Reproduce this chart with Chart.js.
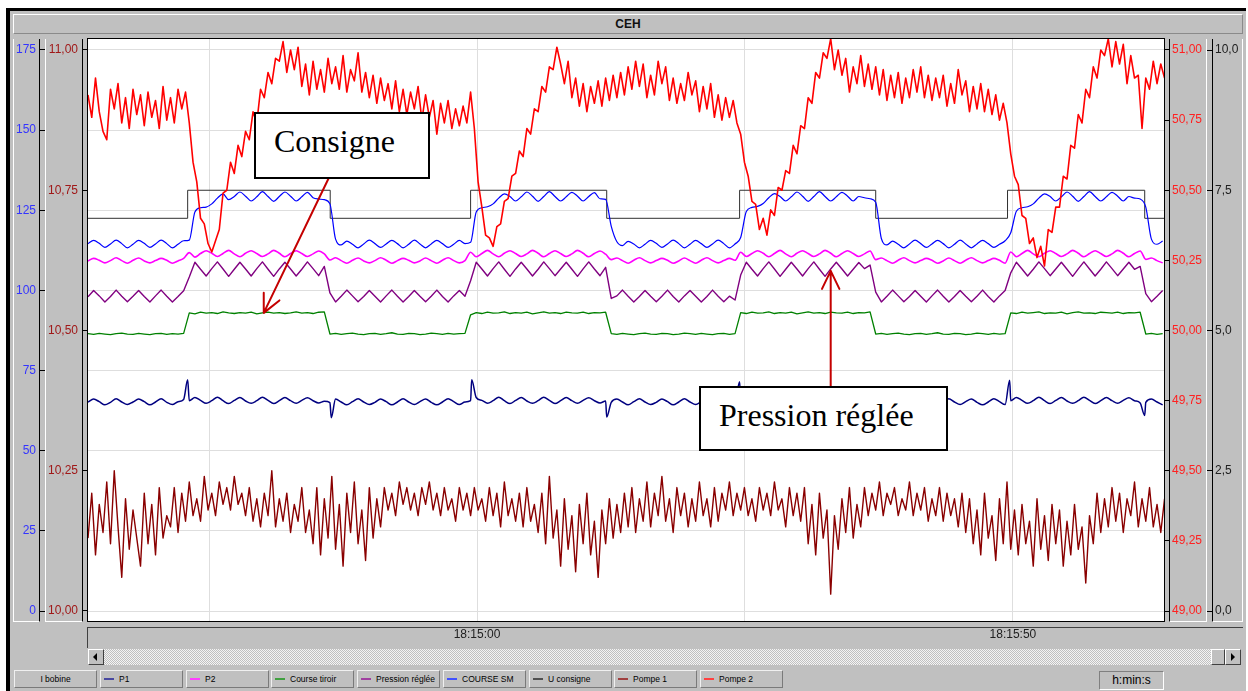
<!DOCTYPE html>
<html lang="fr">
<head>
<meta charset="utf-8">
<title>CEH</title>
<script src="https://cdn.jsdelivr.net/npm/chart.js"></script>
<style>
    body { margin: 0; width: 1248px; height: 691px; overflow: hidden; background: #fff; position: relative;
           font-family: "Liberation Sans", Arial, sans-serif; }
    .abs { position: absolute; box-sizing: border-box; }
    #frame { left: 6px; top: 8px; width: 1240px; height: 683px; background: #c0c0c0;
             border-left: 4px solid #000; border-top: 3px solid #000; }
    #titlebar { left: 13px; top: 14px; width: 1230px; height: 20px; background: #c0c0c0;
                border-top: 1px solid #fff; border-left: 1px solid #fff; border-bottom: 1px solid #8a8a8a; border-right: 1px solid #8a8a8a;
                font: bold 12px "Liberation Sans", Arial, sans-serif; text-align: center; line-height: 18px; color: #111; }
    .lpanel { top: 39px; height: 583px; border-left: 1px solid #fff; border-bottom: 1px solid #fff; border-right: 1px solid #000; }
    .rpanel { top: 39px; height: 583px; border-left: 1px solid #000; border-bottom: 1px solid #fff; border-right: 1px solid #fff; }
    #plot { left: 87px; top: 38px; width: 1078px; height: 584px; background: #fff; border: 1px solid #000; }
    #xpanel { left: 87px; top: 627px; width: 1156px; height: 21px; border-top: 1px solid #404040; border-left: 1px solid #404040; }
    #track { left: 88px; top: 649px; width: 1152px; height: 16px;
             background: repeating-conic-gradient(#c0c0c0 0 25%, #f4f4f4 0 50%) 0 0 / 2px 2px; }
    .btn { background: #c0c0c0; border-top: 1px solid #fff; border-left: 1px solid #fff;
           border-bottom: 1px solid #404040; border-right: 1px solid #404040; }
    .tri { position: absolute; width: 0; height: 0; border-top: 4px solid transparent; border-bottom: 4px solid transparent; }
    .leg { top: 670px; width: 83px; height: 18px; font-size: 8.5px; line-height: 16px; color: #000; white-space: nowrap; overflow: hidden;
           background: #c0c0c0; border-top: 1px solid #f0f0f0; border-left: 1px solid #f0f0f0;
           border-bottom: 1px solid #7a7a7a; border-right: 1px solid #7a7a7a; }
    .leg .sw { position: absolute; left: 3px; top: 7px; width: 10px; height: 2px; }
    .leg .tx { position: absolute; left: 18px; top: 0; }
    #hmin { left: 1099px; top: 671px; width: 65px; height: 19px; font-size: 12px; line-height: 17px; text-align: center;
            border-top: 1px solid #808080; border-left: 1px solid #808080; border-bottom: 1px solid #fff; border-right: 1px solid #fff; }
    #chart { position: absolute; left: 0; top: 0; z-index: 5; }
    .note { position: absolute; z-index: 10; box-sizing: border-box; background: #fff; border: 2px solid #000; }
    .note span { position: absolute; left: 18px; top: 11px; font: 32px/32px "Liberation Serif", "Times New Roman", serif;
                 color: #000; white-space: nowrap; }
</style>
</head>
<body>
<div id="frame" class="abs"></div>
<div id="titlebar" class="abs">CEH</div>
<div class="abs lpanel" style="left:13px;width:27px"></div>
<div class="abs lpanel" style="left:45px;width:38px"></div>
<div class="abs rpanel" style="left:1169px;width:38px"></div>
<div class="abs rpanel" style="left:1212px;width:31px"></div>
<div id="plot" class="abs"></div>
<div id="xpanel" class="abs"></div>
<div id="track" class="abs"></div>
<div class="abs btn" style="left:88px;top:649px;width:16px;height:16px"><div class="tri" style="left:4px;top:3px;border-right:4px solid #000"></div></div>
<div class="abs btn" style="left:1211px;top:649px;width:14px;height:16px"></div>
<div class="abs btn" style="left:1225px;top:649px;width:16px;height:16px"><div class="tri" style="left:5px;top:3px;border-left:4px solid #000"></div></div>
<div id="legend"></div>
<div id="hmin" class="abs">h:min:s</div>
<canvas id="chart" width="1248" height="691"></canvas>
<div class="note" style="left:254px;top:112px;width:176px;height:67px"><span>Consigne</span></div>
<div class="note" style="left:699px;top:386px;width:249px;height:65px"><span>Pression réglée</span></div>

<script>
/* ── Time base: seconds relative to 18:15:00 ── */
const T0 = -36.3;          // first sample on screen
const DT_A = 0.525;        // sample step of the smooth channels
const DT_B = 0.35;         // sample step of the pump channels
const X_MIN = -36.3, X_MAX = 64.1;

const xTickSecs = [-25, 0, 25, 50];
const xTickLabels = ['', '18:15:00', '', '18:15:50'];

/* ── Axis tick lists ── */
const blueTicks = [0, 25, 50, 75, 100, 125, 150, 175];
const darkTicks = [10.0, 10.25, 10.5, 10.75, 11.0];
const redTicks = [49.0, 49.25, 49.5, 49.75, 50.0, 50.25, 50.5, 50.75, 51.0];
const blackTicks = [0, 2.5, 5, 7.5, 10];

/* ── COURSE SM (blue axis), step DT_A ── */
const courseSM = [
    114.6, 115.6, 114.7, 113.4, 114.5, 115.7, 114.6, 113.3, 114.4, 115.6, 114.7, 113.4, 114.5, 115.7, 114.6, 113.3, 114.4, 115.5,
    115.7, 124.5, 125.8, 126.0, 127.0, 128.8, 130.1, 128.3, 129.3, 130.7, 129.4, 127.9, 129.2, 130.8, 129.3, 127.8, 129.3, 130.7, 129.4, 127.9, 129.2, 130.6, 128.9, 128.5, 128.3,
    127.0, 116.0, 114.2, 115.4, 114.4, 113.3, 114.5, 115.7, 114.6, 113.4, 114.5, 115.6, 114.6, 113.3, 114.4, 115.7, 114.5, 113.3, 114.5, 115.6, 114.6, 113.4, 114.4, 115.6, 114.6,
    115.0, 124.5, 125.8, 126.1, 127.0, 128.8, 130.1, 129.3, 127.9, 129.2, 130.7, 129.4, 127.8, 129.3, 130.8, 129.3, 127.9, 129.2, 130.6, 129.4, 127.9, 129.3, 130.5, 128.6, 128.4,
    120.0, 115.2, 114.0, 115.3, 114.5, 113.3, 114.4, 115.6, 114.7, 113.4, 114.5, 115.7, 114.6, 113.3, 114.4, 115.6, 114.6, 113.4, 114.5, 115.7, 114.6, 113.3, 114.5,
    116.5, 124.6, 125.9, 126.2, 127.1, 128.9, 130.2, 129.3, 127.9, 129.2, 130.7, 129.4, 127.8, 129.3, 130.8, 129.3, 127.9, 129.2, 130.6, 129.4, 127.9, 129.3, 128.9, 128.6,
    127.5, 116.2, 114.2, 115.4, 114.4, 113.3, 114.5, 115.7, 114.6, 113.4, 114.5, 115.6, 114.6, 113.3, 114.4, 115.7, 114.5, 113.3, 114.5, 115.6, 114.6, 113.4, 114.4, 115.5,
    118.0, 124.7, 125.8, 126.1, 127.0, 128.8, 130.1, 129.3, 127.9, 129.2, 130.7, 129.4, 127.8, 129.3, 130.8, 129.3, 127.9, 129.2, 130.6, 129.4, 127.9, 129.3, 128.8, 128.5,
    126.0, 116.0, 114.4, 115.4
];

/* ── P2 (blue axis), step DT_A ── */
const p2 = [
    109.2, 110.0, 109.4, 108.6, 109.3, 110.2, 109.3, 108.5, 109.4, 110.1, 109.2, 108.6, 109.3, 110.0, 109.4, 108.5, 109.2, 110.0,
    111.8, 110.4, 111.5, 112.4, 111.6, 110.6, 111.5, 112.5, 111.4, 110.5, 111.6, 112.4, 111.5, 110.6, 111.4, 112.5, 111.6, 110.5, 111.5, 112.4, 111.5, 110.6, 111.4, 112.3, 111.4,
    109.5, 110.2, 109.3, 108.5, 109.4, 110.1, 109.2, 108.6, 109.3, 110.2, 109.4, 108.5, 109.3, 110.0, 109.4, 108.6, 109.2, 110.1, 109.3, 108.5, 109.4, 110.2, 109.3, 108.6, 109.3,
    111.9, 110.5, 111.5, 112.5, 111.4, 110.5, 111.6, 112.4, 111.5, 110.6, 111.4, 112.5, 111.6, 110.5, 111.5, 112.4, 111.5, 110.6, 111.4, 112.5, 111.6, 110.5, 111.5, 112.3, 111.3,
    109.6, 110.1, 109.3, 108.5, 109.4, 110.2, 109.3, 108.6, 109.3, 110.0, 109.4, 108.5, 109.2, 110.1, 109.3, 108.5, 109.4, 110.2, 109.3, 108.6, 109.3, 110.0, 109.4,
    111.9, 110.6, 111.5, 112.4, 111.6, 110.5, 111.5, 112.5, 111.4, 110.5, 111.6, 112.4, 111.5, 110.6, 111.4, 112.5, 111.6, 110.5, 111.5, 112.4, 111.5, 110.6, 111.4, 112.3,
    109.6, 110.1, 109.3, 108.5, 109.4, 110.2, 109.3, 108.6, 109.3, 110.0, 109.4, 108.5, 109.2, 110.1, 109.3, 108.5, 109.4, 110.2, 109.3, 108.6, 109.3, 110.0, 109.4, 108.5,
    112.0, 110.5, 111.5, 112.5, 111.4, 110.5, 111.6, 112.4, 111.5, 110.6, 111.4, 112.5, 111.6, 110.5, 111.5, 112.4, 111.5, 110.6, 111.4, 112.5, 111.6, 110.5, 111.5, 112.3,
    109.7, 110.1, 109.3, 108.6
];

/* ── Pression réglée (blue axis), step DT_A ── */
const pression = [
    98.0, 100.0, 98.3, 96.4, 98.1, 100.1, 98.2, 96.5, 98.2, 100.0, 98.1, 96.4, 98.3, 100.1, 98.2, 96.4, 98.1, 99.9,
    104.2, 108.8, 106.6, 104.5, 106.8, 108.9, 106.7, 104.4, 106.6, 108.8, 106.7, 104.5, 106.8, 108.9, 106.6, 104.4, 106.7, 108.8, 106.7, 104.5, 106.6, 108.9, 106.8, 104.6, 107.5,
    99.2, 96.4, 98.2, 100.1, 98.3, 96.5, 98.1, 100.0, 98.2, 96.4, 98.3, 100.1, 98.2, 96.4, 98.1, 100.0, 98.2, 96.5, 98.2, 100.1, 98.1, 96.4, 98.3, 100.0, 98.2,
    103.0, 108.8, 106.7, 104.5, 106.8, 108.9, 106.6, 104.4, 106.7, 108.8, 106.7, 104.5, 106.6, 108.9, 106.8, 104.6, 106.7, 108.8, 106.6, 104.4, 106.7, 108.9, 106.7, 104.6, 107.2,
    97.5, 98.3, 100.1, 98.2, 96.4, 98.1, 100.0, 98.2, 96.5, 98.2, 100.1, 98.1, 96.4, 98.3, 100.0, 98.2, 96.4, 98.1, 100.1, 98.2, 96.5, 98.2, 97.0,
    104.8, 108.8, 106.6, 104.5, 106.8, 108.9, 106.7, 104.4, 106.6, 108.8, 106.7, 104.5, 106.8, 108.9, 106.6, 104.4, 106.7, 108.8, 106.7, 104.5, 106.6, 108.7, 106.8, 107.9,
    99.5, 96.4, 98.2, 100.1, 98.3, 96.5, 98.1, 100.0, 98.2, 96.4, 98.3, 100.1, 98.2, 96.4, 98.1, 100.0, 98.2, 96.5, 98.2, 100.1, 98.1, 96.4, 98.3, 100.0,
    105.5, 108.8, 106.7, 104.5, 106.6, 108.9, 106.8, 104.6, 106.7, 108.8, 106.6, 104.4, 106.7, 108.9, 106.7, 104.5, 106.6, 108.9, 106.8, 104.6, 106.7, 108.8, 106.6, 107.5,
    99.0, 96.5, 98.2, 100.0
];

/* ── Course tiroir (blue axis), step DT_A ── */
const courseTiroir = [
    86.5, 86.3, 86.6, 86.4, 86.2, 86.5, 86.7, 86.4, 86.3, 86.6, 86.4, 86.2, 86.5, 86.6, 86.3, 86.5, 86.4, 86.6,
    93.0, 92.7, 93.2, 92.9, 93.1, 92.8, 93.3, 93.0, 92.8, 93.1, 92.9, 93.2, 92.7, 93.0, 93.2, 92.9, 93.1, 92.8, 93.0, 93.3, 92.9, 93.1, 92.8, 93.2, 93.3,
    86.4, 86.6, 86.3, 86.5, 86.7, 86.4, 86.2, 86.5, 86.6, 86.3, 86.5, 86.8, 86.4, 86.3, 86.6, 86.5, 86.2, 86.4, 86.7, 86.5, 86.3, 86.6, 86.4, 86.5, 86.6,
    92.4, 93.1, 92.8, 93.2, 92.9, 93.0, 93.3, 92.8, 93.1, 92.9, 93.2, 92.7, 93.0, 93.3, 92.9, 93.1, 92.8, 93.2, 93.0, 92.9, 93.2, 92.8, 93.1, 93.0, 93.2,
    86.5, 86.3, 86.6, 86.4, 86.2, 86.5, 86.7, 86.4, 86.3, 86.6, 86.5, 86.2, 86.4, 86.7, 86.5, 86.3, 86.6, 86.4, 86.2, 86.5, 86.6, 86.3, 86.5,
    93.1, 92.8, 93.2, 92.9, 93.0, 93.3, 92.8, 93.1, 92.9, 93.2, 92.7, 93.0, 93.3, 92.9, 93.1, 92.8, 93.2, 93.0, 92.9, 93.2, 92.8, 93.1, 93.0, 93.3,
    86.4, 86.6, 86.3, 86.5, 86.7, 86.4, 86.2, 86.5, 86.6, 86.3, 86.5, 86.8, 86.4, 86.3, 86.6, 86.5, 86.2, 86.4, 86.7, 86.5, 86.3, 86.6, 86.4, 86.5,
    93.0, 92.8, 93.2, 92.9, 93.1, 93.3, 92.8, 93.0, 92.9, 93.2, 92.7, 93.1, 93.3, 92.9, 93.0, 92.8, 93.2, 93.1, 92.9, 93.2, 92.8, 93.1, 93.0, 93.2,
    86.4, 86.6, 86.3, 86.5
];

/* ── P1 (blue axis), step DT_A, plus the short spikes at each switch ── */
const p1 = [
    65.2, 66.1, 65.3, 64.3, 65.1, 66.2, 65.2, 64.4, 65.2, 66.1, 65.3, 64.3, 65.2, 66.2, 65.1, 64.4, 65.3, 66.0,
    65.6, 66.6, 65.7, 64.8, 65.6, 66.7, 65.6, 64.7, 65.7, 66.6, 65.5, 64.8, 65.6, 66.7, 65.7, 64.7, 65.6, 66.6, 65.6, 64.8, 65.7, 66.5, 65.6, 64.9, 65.4,
    65.0, 66.1, 65.2, 64.3, 65.3, 66.2, 65.2, 64.4, 65.1, 66.1, 65.3, 64.3, 65.2, 66.2, 65.2, 64.4, 65.3, 66.1, 65.1, 64.3, 65.2, 66.2, 65.3, 64.4, 65.2,
    65.6, 66.6, 65.7, 64.8, 65.6, 66.7, 65.6, 64.7, 65.7, 66.6, 65.5, 64.8, 65.6, 66.7, 65.7, 64.7, 65.6, 66.6, 65.6, 64.8, 65.7, 66.5, 65.6, 64.9, 65.5,
    65.1, 66.1, 65.2, 64.3, 65.3, 66.2, 65.2, 64.4, 65.1, 66.1, 65.3, 64.3, 65.2, 66.2, 65.2, 64.4, 65.3, 66.1, 65.1, 64.3, 65.2, 66.2, 65.3,
    65.6, 66.6, 65.7, 64.8, 65.6, 66.7, 65.6, 64.7, 65.7, 66.6, 65.5, 64.8, 65.6, 66.7, 65.7, 64.7, 65.6, 66.6, 65.6, 64.8, 65.7, 66.5, 65.6, 64.9,
    65.1, 66.1, 65.2, 64.3, 65.3, 66.2, 65.2, 64.4, 65.1, 66.1, 65.3, 64.3, 65.2, 66.2, 65.2, 64.4, 65.3, 66.1, 65.1, 64.3, 65.2, 66.2, 65.3, 64.4,
    65.6, 66.6, 65.7, 64.8, 65.6, 66.7, 65.6, 64.7, 65.7, 66.6, 65.5, 64.8, 65.6, 66.7, 65.7, 64.7, 65.6, 66.6, 65.6, 64.8, 65.7, 66.5, 65.6, 64.9,
    65.1, 66.1, 65.2, 64.3
];
const p1SpikeT = [-27.0, -13.6, -0.5, 12.1, 24.5, 37.2, 49.7, 62.3];
const p1SpikeV = [72.1, 60.3, 72.1, 60.5, 71.5, 60.5, 72.0, 61.0];

/* ── U consigne (black axis), switching instants ── */
const uT = [-36.3, -27.0, -13.7, -0.6, 12.1, 24.5, 37.2, 49.5, 62.3, 64.1];
const uV = [7.0, 7.5, 7.0, 7.5, 7.0, 7.5, 7.0, 7.5, 7.0, 7.0];

/* ── Pompe 2 (red axis), step DT_B ── */
const pompe2 = [
    50.84, 50.76, 50.90, 50.78, 50.71, 50.68, 50.86, 50.79, 50.88, 50.74,
    50.83, 50.72, 50.86, 50.77, 50.84, 50.73, 50.85, 50.76, 50.82, 50.72,
    50.87, 50.75, 50.83, 50.74, 50.86, 50.79, 50.85, 50.74, 50.60, 50.53,
    50.40, 50.38, 50.31, 50.28, 50.32, 50.36, 50.49, 50.50, 50.60, 50.56,
    50.66, 50.62, 50.71, 50.68, 50.78, 50.74, 50.86, 50.83, 50.92, 50.88,
    50.97, 50.96, 51.03, 50.92, 51.00, 50.93, 51.01, 50.87, 50.95, 50.84,
    50.96, 50.86, 50.93, 50.85, 50.97, 50.88, 50.94, 50.86, 50.98, 50.85,
    50.93, 50.89, 50.99, 50.85, 50.92, 50.83, 50.91, 50.81, 50.90, 50.82,
    50.88, 50.79, 50.89, 50.78, 50.86, 50.77, 50.85, 50.79, 50.87, 50.75,
    50.84, 50.76, 50.82, 50.70, 50.81, 50.74, 50.82, 50.72, 50.79, 50.73,
    50.80, 50.74, 50.85, 50.72, 50.53, 50.44, 50.34, 50.33, 50.30, 50.37,
    50.38, 50.46, 50.47, 50.55, 50.56, 50.64, 50.62, 50.72, 50.70, 50.79,
    50.78, 50.87, 50.85, 50.94, 50.93, 51.01, 50.95, 50.88, 50.96, 50.83,
    50.90, 50.80, 50.88, 50.78, 50.87, 50.81, 50.89, 50.80, 50.90, 50.82,
    50.91, 50.83, 50.92, 50.84, 50.94, 50.86, 50.96, 50.87, 50.95, 50.83,
    50.91, 50.84, 50.96, 50.88, 50.94, 50.82, 50.90, 50.81, 50.88, 50.82,
    50.92, 50.84, 50.89, 50.78, 50.87, 50.79, 50.88, 50.76, 50.84, 50.75,
    50.83, 50.76, 50.82, 50.74, 50.70, 50.60, 50.55, 50.46, 50.45, 50.36,
    50.40, 50.34, 50.43, 50.41, 50.51, 50.50, 50.57, 50.56, 50.66, 50.63,
    50.73, 50.72, 50.83, 50.81, 50.92, 50.90, 50.99, 50.97, 51.04, 50.93,
    51.00, 50.91, 50.97, 50.85, 50.94, 50.88, 50.98, 50.87, 50.95, 50.86,
    50.94, 50.84, 50.93, 50.82, 50.91, 50.83, 50.92, 50.81, 50.90, 50.83,
    50.93, 50.85, 50.94, 50.83, 50.91, 50.82, 50.90, 50.83, 50.91, 50.80,
    50.88, 50.81, 50.93, 50.84, 50.89, 50.78, 50.87, 50.79, 50.88, 50.78,
    50.86, 50.77, 50.84, 50.75, 50.81, 50.74, 50.63, 50.55, 50.52, 50.41,
    50.40, 50.31, 50.33, 50.26, 50.30, 50.23, 50.36, 50.35, 50.44, 50.44,
    50.55, 50.54, 50.66, 50.65, 50.77, 50.74, 50.86, 50.83, 50.94, 50.90,
    51.00, 50.98, 51.04, 50.94, 51.03, 50.95, 51.02, 50.88, 50.98, 50.90,
    50.91, 50.72, 50.90, 50.86, 50.96, 50.88, 50.95, 50.90
];

/* ── Pompe 1 (dark red axis), step DT_B ── */
const pompe1 = [
    10.13, 10.21, 10.10, 10.19, 10.14, 10.23, 10.12, 10.25, 10.15, 10.06,
    10.20, 10.11, 10.18, 10.13, 10.08, 10.21, 10.12, 10.19, 10.10, 10.22,
    10.13, 10.17, 10.15, 10.22, 10.14, 10.21, 10.16, 10.23, 10.17, 10.20,
    10.16, 10.24, 10.18, 10.21, 10.17, 10.23, 10.19, 10.22, 10.18, 10.24,
    10.19, 10.21, 10.17, 10.22, 10.16, 10.20, 10.15, 10.21, 10.17, 10.25,
    10.15, 10.20, 10.16, 10.21, 10.14, 10.19, 10.16, 10.22, 10.14, 10.18,
    10.12, 10.22, 10.10, 10.20, 10.13, 10.24, 10.11, 10.19, 10.08, 10.21,
    10.14, 10.23, 10.12, 10.18, 10.09, 10.22, 10.13, 10.20, 10.15, 10.22,
    10.18, 10.21, 10.17, 10.23, 10.19, 10.22, 10.18, 10.21, 10.17, 10.22,
    10.19, 10.23, 10.18, 10.21, 10.17, 10.22, 10.18, 10.20, 10.16, 10.22,
    10.18, 10.21, 10.17, 10.22, 10.18, 10.20, 10.16, 10.22, 10.17, 10.21,
    10.15, 10.23, 10.17, 10.20, 10.16, 10.21, 10.15, 10.22, 10.16, 10.19,
    10.14, 10.21, 10.12, 10.24, 10.13, 10.18, 10.08, 10.20, 10.11, 10.17,
    10.07, 10.19, 10.12, 10.21, 10.10, 10.16, 10.06, 10.18, 10.12, 10.20,
    10.13, 10.19, 10.14, 10.21, 10.15, 10.22, 10.14, 10.20, 10.16, 10.23,
    10.15, 10.21, 10.17, 10.24, 10.16, 10.20, 10.14, 10.22, 10.17, 10.21,
    10.15, 10.20, 10.16, 10.23, 10.17, 10.20, 10.15, 10.22, 10.16, 10.21,
    10.18, 10.23, 10.17, 10.21, 10.18, 10.22, 10.17, 10.20, 10.16, 10.22,
    10.18, 10.21, 10.17, 10.23, 10.18, 10.20, 10.15, 10.22, 10.17, 10.21,
    10.16, 10.22, 10.12, 10.19, 10.10, 10.21, 10.13, 10.18, 10.03, 10.17,
    10.11, 10.20, 10.14, 10.22, 10.13, 10.19, 10.15, 10.22, 10.17, 10.21,
    10.18, 10.23, 10.17, 10.21, 10.19, 10.22, 10.17, 10.20, 10.18, 10.23,
    10.17, 10.21, 10.18, 10.22, 10.16, 10.20, 10.17, 10.22, 10.16, 10.21,
    10.17, 10.20, 10.15, 10.21, 10.14, 10.20, 10.12, 10.18, 10.10, 10.21,
    10.13, 10.17, 10.09, 10.20, 10.12, 10.23, 10.11, 10.18, 10.10, 10.19,
    10.12, 10.16, 10.08, 10.20, 10.11, 10.17, 10.09, 10.19, 10.12, 10.18,
    10.08, 10.16, 10.10, 10.19, 10.11, 10.15, 10.05, 10.17, 10.12, 10.21,
    10.14, 10.20, 10.15, 10.22, 10.16, 10.21, 10.14, 10.20, 10.17, 10.23,
    10.15, 10.20, 10.16, 10.22, 10.15, 10.19, 10.14, 10.20
];

/* ── Legend strip ── */
const legendNames = ['I bobine', 'P1', 'P2', 'Course tiroir', 'Pression réglée', 'COURSE SM', 'U consigne', 'Pompe 1', 'Pompe 2'];
const legendColors = [null, '#4848a0', '#ff40ff', '#40a040', '#a040a0', '#4050ff', '#505050', '#a04040', '#ff4040'];

/* ── Annotation arrows (time s, COURSE SM axis value) ── */
const arrows = [
    { from: [-13.7, 136.0], to: [-19.9, 93.0] },
    { from: [33.0, 70.2], to: [33.0, 106.1] },
];

const FONT = '"Liberation Sans", Arial, sans-serif';

function series(vals, dt) {
    return vals.map((v, i) => ({ x: T0 + i * dt, y: v }));
}

function comma(digits) {
    return v => Number(v).toFixed(digits).replace('.', ',');
}

function buildLegend() {
    const box = document.getElementById('legend');
    legendNames.forEach((name, i) => {
        const el = document.createElement('div');
        el.className = 'abs leg';
        el.style.left = Math.round(14 + i * 85.75) + 'px';
        if (legendColors[i]) {
            el.innerHTML = `<div class="sw" style="background:${legendColors[i]}"></div><div class="tx">${name}</div>`;
        } else {
            el.style.textAlign = 'center';
            el.textContent = name;
        }
        box.appendChild(el);
    });
}

const arrowPlugin = {
    id: 'arrows',
    afterDraw(chart) {
        const { ctx, scales } = chart;
        const xs = scales.x, ys = scales.yBlue;
        ctx.save();
        ctx.strokeStyle = '#c40000';
        ctx.lineWidth = 2;
        ctx.lineCap = 'round';
        for (const a of arrows) {
            const x0 = xs.getPixelForValue(a.from[0]), y0 = ys.getPixelForValue(a.from[1]);
            const x1 = xs.getPixelForValue(a.to[0]), y1 = ys.getPixelForValue(a.to[1]);
            const ang = Math.atan2(y1 - y0, x1 - x0);
            ctx.beginPath();
            ctx.moveTo(x0, y0);
            ctx.lineTo(x1, y1);
            for (const s of [-1, 1]) {
                ctx.moveTo(x1, y1);
                ctx.lineTo(x1 - 20 * Math.cos(ang + s * 0.45), y1 - 20 * Math.sin(ang + s * 0.45));
            }
            ctx.stroke();
        }
        ctx.restore();
    }
};

function yAxis(pos, weight, min, max, ticks, fmt, color, width, pad, grid) {
    return {
        type: 'linear', position: pos, weight, min, max,
        afterBuildTicks: s => { s.ticks = ticks.map(v => ({ value: v })); },
        afterFit: s => { s.width = width; },
        ticks: { callback: fmt, color, padding: pad, font: { family: FONT, size: 12 } },
        grid: { drawOnChartArea: grid, color: '#dedede', tickColor: '#000', tickLength: 5 },
        border: { display: false },
    };
}

function render() {
    buildLegend();

    const p1Data = series(p1, DT_A)
        .concat(p1SpikeT.map((t, i) => ({ x: t, y: p1SpikeV[i] })))
        .sort((a, b) => a.x - b.x);

    new Chart(document.getElementById('chart').getContext('2d'), {
        type: 'line',
        data: {
            datasets: [
                { label: 'Pompe 2', data: series(pompe2, DT_B), yAxisID: 'yRed', borderColor: '#ff0000', borderWidth: 1.6 },
                { label: 'Pompe 1', data: series(pompe1, DT_B), yAxisID: 'yDark', borderColor: '#8a0000', borderWidth: 1.4 },
                { label: 'P1', data: p1Data, yAxisID: 'yBlue', borderColor: '#000080', borderWidth: 1.5, cubicInterpolationMode: 'monotone' },
                { label: 'Course tiroir', data: series(courseTiroir, DT_A), yAxisID: 'yBlue', borderColor: '#008000', borderWidth: 1.3 },
                { label: 'Pression réglée', data: series(pression, DT_A), yAxisID: 'yBlue', borderColor: '#800080', borderWidth: 1.4 },
                { label: 'P2', data: series(p2, DT_A), yAxisID: 'yBlue', borderColor: '#ff00ff', borderWidth: 1.6, cubicInterpolationMode: 'monotone' },
                { label: 'COURSE SM', data: series(courseSM, DT_A), yAxisID: 'yBlue', borderColor: '#0000ff', borderWidth: 1.2, cubicInterpolationMode: 'monotone' },
                { label: 'U consigne', data: uT.map((t, i) => ({ x: t, y: uV[i] })), yAxisID: 'yBlack', borderColor: '#303030', borderWidth: 1, stepped: true },
            ]
        },
        options: {
            responsive: false,
            animation: false,
            devicePixelRatio: 1,
            events: [],
            layout: { padding: { left: 13, right: 5, top: 39, bottom: 46 } },
            elements: { point: { radius: 0 }, line: { borderJoinStyle: 'round', fill: false } },
            plugins: { legend: { display: false }, tooltip: { enabled: false }, title: { display: false } },
            scales: {
                x: {
                    type: 'linear', position: 'bottom', min: X_MIN, max: X_MAX,
                    afterBuildTicks: s => { s.ticks = xTickSecs.map(v => ({ value: v })); },
                    afterFit: s => { s.height = 24; },
                    ticks: { callback: (v, i) => xTickLabels[i], padding: 6, maxRotation: 0, autoSkip: false,
                             color: '#202020', font: { family: FONT, size: 12 } },
                    grid: { color: '#dedede', drawTicks: false },
                    border: { display: false },
                },
                yBlue: yAxis('left', 2, -3.119, 178.431, blueTicks, v => String(v), '#3434ff', 32, 4, true),
                yDark: yAxis('left', 1, 9.98217, 11.0196, darkTicks, comma(2), '#a01818', 43, 5, false),
                yRed: yAxis('right', 1, 48.96435, 51.0392, redTicks, comma(2), '#ff2020', 43, 3, false),
                yBlack: yAxis('right', 2, -0.17825, 10.1961, blackTicks, comma(1), '#202020', 36, 3, false),
            }
        },
        plugins: [arrowPlugin]
    });
}

render();
</script>
</body>
</html>
